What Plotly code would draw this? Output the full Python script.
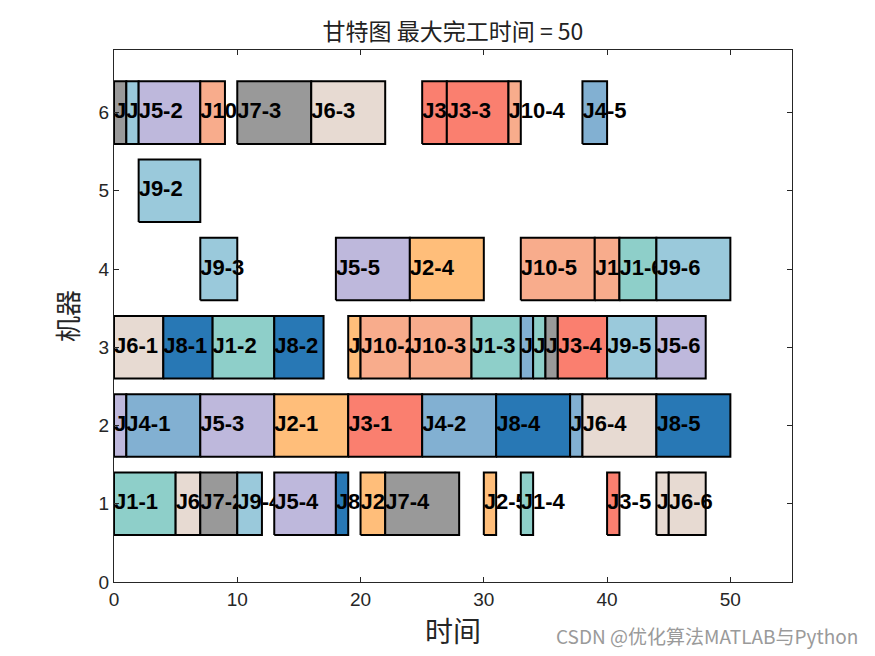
import plotly.graph_objects as go

# Operation data: job, operation index, machine, start, end
jobs     = [1, 1, 1, 1, 1, 1,
            2, 2, 2, 2, 2,
            3, 3, 3, 3, 3,
            4, 4, 4, 4, 4,
            5, 5, 5, 5, 5, 5,
            6, 6, 6, 6, 6, 6,
            7, 7, 7, 7, 7,
            8, 8, 8, 8, 8,
            9, 9, 9, 9, 9, 9,
            10, 10, 10, 10, 10, 10]
ops      = [1, 2, 3, 4, 5, 6,
            1, 2, 3, 4, 5,
            1, 2, 3, 4, 5,
            1, 2, 3, 4, 5,
            1, 2, 3, 4, 5, 6,
            1, 2, 3, 4, 5, 6,
            1, 2, 3, 4, 5,
            1, 2, 3, 4, 5,
            1, 2, 3, 4, 5, 6,
            1, 2, 3, 4, 5, 6]
machines = [1, 3, 3, 1, 3, 4,
            2, 3, 1, 4, 1,
            2, 6, 6, 3, 1,
            2, 2, 3, 2, 6,
            2, 6, 2, 1, 4, 3,
            3, 1, 6, 2, 1, 1,
            6, 1, 6, 1, 3,
            3, 3, 1, 2, 2,
            6, 5, 4, 1, 3, 4,
            6, 3, 3, 6, 4, 4]
starts   = [0, 8, 29, 33, 34, 41,
            13, 19, 20, 24, 30,
            19, 25, 27, 36, 40,
            1, 25, 33, 37, 38,
            0, 2, 7, 13, 18, 44,
            0, 5, 16, 38, 44, 45,
            0, 7, 10, 22, 35,
            4, 13, 18, 31, 44,
            1, 2, 7, 10, 40, 44,
            7, 20, 24, 32, 33, 39]
ends     = [5, 13, 33, 34, 35, 44,
            19, 20, 22, 30, 31,
            25, 27, 32, 40, 41,
            7, 31, 34, 38, 40,
            1, 7, 13, 18, 24, 48,
            4, 7, 22, 44, 45, 48,
            1, 10, 16, 28, 36,
            8, 17, 19, 37, 50,
            2, 7, 10, 12, 44, 50,
            9, 24, 29, 33, 39, 41]
job_colors = ["#8ECFC9", "#FFBE7A", "#FA7F6F", "#82B0D2", "#BEB8DC",
              "#E7DAD2", "#999999", "#2878B5", "#9AC9DB", "#F8AC8C"]
machine_ticks = [0, 1, 2, 3, 4, 5, 6]
time_ticks = [0, 10, 20, 30, 40, 50]
makespan = 50

fig = go.Figure()
half = 0.4
order = sorted(range(len(jobs)), key=lambda i: (starts[i], machines[i]))
for i in order:
    s, e, m, j = starts[i], ends[i], machines[i], jobs[i]
    fig.add_trace(go.Scatter(
        x=[s, e, e, s, s], y=[m - half, m - half, m + half, m + half, m - half],
        mode="lines", fill="toself", fillcolor=job_colors[j - 1],
        line=dict(color="black", width=2), hoverinfo="skip", showlegend=False))
    fig.add_trace(go.Scatter(
        x=[s], y=[m], mode="text", text=[f"J{j}-{ops[i]}"],
        textposition="middle right",
        textfont=dict(family="Liberation Sans, Arial", size=22, color="black", weight="bold"),
        hoverinfo="skip", showlegend=False))

fig.update_layout(
    width=867, height=648,
    margin=dict(l=106, r=83, t=42, b=74),
    plot_bgcolor="white", paper_bgcolor="white",
    title=dict(text=f"甘特图 最大完工时间 = {makespan}", x=0.5, xanchor="center",
               xref="paper", y=0.963, yanchor="middle",
               font=dict(family="Noto Sans CJK SC", size=23, color="#222222")),
    xaxis=dict(range=[0, 55], tickvals=time_ticks, ticks="inside", ticklen=5,
               tickcolor="#262626", showline=True, linecolor="#262626", linewidth=1,
               mirror="ticks", showgrid=False, zeroline=False,
               tickfont=dict(family="Liberation Sans, Arial", size=19, color="#262626"),
               title=dict(text="时间", font=dict(family="Noto Sans CJK SC", size=28, color="#262626"),
                          standoff=10)),
    yaxis=dict(range=[0, 6.8], tickvals=machine_ticks, ticks="inside", ticklen=5,
               tickcolor="#262626", showline=True, linecolor="#262626", linewidth=1,
               mirror="ticks", showgrid=False, zeroline=False,
               tickfont=dict(family="Liberation Sans, Arial", size=19, color="#262626"),
               title=dict(text="机器", font=dict(family="Noto Sans CJK SC", size=26, color="#262626"),
                          standoff=12)),
)
fig.add_annotation(text="CSDN @优化算法MATLAB与Python", xref="paper", yref="paper",
                   x=1.10, y=-0.1015, xanchor="right", yanchor="middle", showarrow=False,
                   font=dict(family="Noto Sans CJK SC", size=19, color="#9a9a9a"))

fig.write_html("out.html")
